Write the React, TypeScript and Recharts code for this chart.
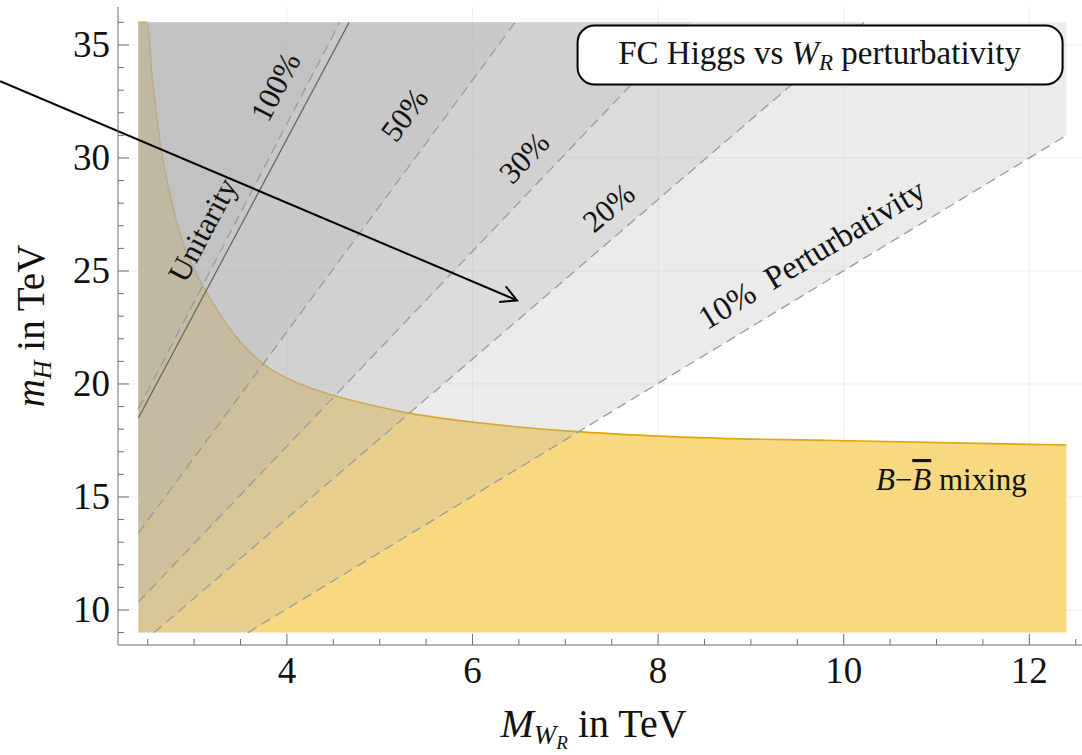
import React from 'react';
import {
  ComposedChart,
  Area,
  Line,
  XAxis,
  YAxis,
  CartesianGrid,
  ReferenceDot,
  ReferenceLine,
} from 'recharts';

const FONT = '"Liberation Serif", "Times New Roman", serif';
const FRAME = '#6e6e6e';

// plotted box of the scan
const X_LEFT = 2.4;
const X_RIGHT = 12.4;
const Y_BOTTOM = 9;
const Y_TOP = 36;

// axes
const X_DOMAIN = [2.18, 12.6];
const Y_DOMAIN = [8.45, 36.68];
const X_TICKS = [2.5, 3, 3.5, 4, 4.5, 5, 5.5, 6, 6.5, 7, 7.5, 8, 8.5, 9, 9.5, 10, 10.5, 11, 11.5, 12, 12.5];
const X_MAJOR = [4, 6, 8, 10, 12];
const Y_TICKS = [9, 10, 11, 12, 13, 14, 15, 16, 17, 18, 19, 20, 21, 22, 23, 24, 25, 26, 27, 28, 29, 30, 31, 32, 33, 34, 35, 36];
const Y_MAJOR = [10, 15, 20, 25, 30, 35];

// B - Bbar mixing bound (upper edge of the yellow region)
const MIX_X = [2.4, 2.49, 2.55, 2.64, 2.75, 2.9, 3.06, 3.2, 3.41, 3.74, 4.14, 4.5, 4.87, 5.3, 6.09, 7.17, 8.25, 9.9, 12.4];
const MIX_Y = [36, 36, 33.5, 30.5, 28.2, 26.0, 24.6, 23.6, 22.3, 20.9, 20.0, 19.5, 19.1, 18.72, 18.27, 17.88, 17.65, 17.5, 17.3];

// perturbativity contours: where each dashed line enters and leaves the box
const LINE_10 = [{ x: 3.58, y: 9 }, { x: 12.4, y: 31.0 }];
const LINE_20 = [{ x: 2.57, y: 9 }, { x: 10.22, y: 36 }];
const LINE_30 = [{ x: 2.4, y: 10.35 }, { x: 8.35, y: 36 }];
const LINE_50 = [{ x: 2.4, y: 13.4 }, { x: 6.46, y: 36 }];
const LINE_100 = [{ x: 2.4, y: 18.9 }, { x: 4.57, y: 36 }];
const UNITARITY = [{ x: 2.4, y: 18.5 }, { x: 4.67, y: 36 }];

const ARROW_FROM = { x: 0.91, y: 33.4 };
const ARROW_TO = { x: 6.48, y: 23.7 };

const LINE_LABELS = [
  { text: '100%', x: 3.88, y: 33.14, angle: -62.5, size: 31 },
  { text: '50%', x: 5.27, y: 31.9, angle: -53.6, size: 31 },
  { text: '30%', x: 6.56, y: 30.0, angle: -46.4, size: 31 },
  { text: '20%', x: 7.47, y: 27.79, angle: -40.7, size: 31 },
  { text: '10%\u00a0\u00a0Perturbativity', x: 9.66, y: 25.71, angle: -31.2, size: 33 },
  { text: 'Unitarity', x: 3.095, y: 26.81, angle: -61.9, size: 31 },
];
const MIX_LABEL = { x: 11.16, y: 15.75 };
const TITLE_POS = { x: 9.74, y: 34.58 };

const mixRows = MIX_X.map((x, i) => ({ x, y: MIX_Y[i] }));

// region above a contour, closed at the top of the box
function band(line: { x: number; y: number }[]) {
  const [a, b] = line;
  const rows: { x: number; lo: number; hi: number }[] = [];
  if (a.x > X_LEFT) rows.push({ x: X_LEFT, lo: Y_BOTTOM, hi: Y_TOP });
  rows.push({ x: a.x, lo: a.y, hi: Y_TOP });
  rows.push({ x: b.x, lo: b.y, hi: Y_TOP });
  return rows;
}

const BANDS = [LINE_10, LINE_20, LINE_30, LINE_50, LINE_100];

const BottomTick = ({ x, y, payload }: any) => {
  const major = X_MAJOR.includes(payload.value);
  return (
    <g>
      <line x1={x} y1={y} x2={x} y2={y - (major ? 11 : 6)} stroke={FRAME} strokeWidth={1} />
      {major && (
        <text x={x} y={y + 38} textAnchor="middle" fontFamily={FONT} fontSize={37} fill="#111">
          {payload.value}
        </text>
      )}
    </g>
  );
};

const TopTick = ({ x, y, payload }: any) => {
  const major = X_MAJOR.includes(payload.value);
  return <line x1={x} y1={y} x2={x} y2={y + (major ? 11 : 6)} stroke={FRAME} strokeWidth={1} />;
};

const LeftTick = ({ x, y, payload }: any) => {
  const major = Y_MAJOR.includes(payload.value);
  return (
    <g>
      <line x1={x} y1={y} x2={x + (major ? 11 : 6)} y2={y} stroke={FRAME} strokeWidth={1} />
      {major && (
        <text x={x - 8} y={y + 12} textAnchor="end" fontFamily={FONT} fontSize={37} fill="#111">
          {payload.value}
        </text>
      )}
    </g>
  );
};

const RightTick = ({ x, y, payload }: any) => {
  const major = Y_MAJOR.includes(payload.value);
  return <line x1={x} y1={y} x2={x - (major ? 11 : 6)} y2={y} stroke={FRAME} strokeWidth={1} />;
};

const XTitle = ({ viewBox }: any) => {
  const cx = viewBox.x + viewBox.width / 2 - 8;
  return (
    <text x={cx} y={viewBox.y + 92} textAnchor="middle" fontFamily={FONT} fontSize={40} fill="#111" style={{ whiteSpace: 'pre' }}>
      <tspan fontStyle="italic">M</tspan>
      <tspan fontStyle="italic" fontSize={27} dy={7}>W</tspan>
      <tspan fontStyle="italic" fontSize={19} dy={5}>R</tspan>
      <tspan dy={-12}>{' in TeV'}</tspan>
    </text>
  );
};

const YTitle = ({ viewBox }: any) => {
  const cy = viewBox.y + viewBox.height / 2;
  return (
    <text
      transform={`translate(44, ${cy}) rotate(-90)`}
      textAnchor="middle"
      fontFamily={FONT}
      fontSize={39}
      fill="#111"
      style={{ whiteSpace: 'pre' }}
    >
      <tspan fontStyle="italic">m</tspan>
      <tspan fontStyle="italic" fontSize={26} dy={7}>H</tspan>
      <tspan dy={-7}>{' in TeV'}</tspan>
    </text>
  );
};

const ArrowShape = ({ x1, y1, x2, y2 }: any) => {
  const ang = Math.atan2(y2 - y1, x2 - x1);
  const len = 18;
  const spread = 0.49;
  const w1x = x2 - len * Math.cos(ang - spread);
  const w1y = y2 - len * Math.sin(ang - spread);
  const w2x = x2 - len * Math.cos(ang + spread);
  const w2y = y2 - len * Math.sin(ang + spread);
  return (
    <g>
      <line x1={x1} y1={y1} x2={x2} y2={y2} stroke="#000" strokeWidth={2} />
      <polyline points={`${w1x},${w1y} ${x2},${y2} ${w2x},${w2y}`} fill="none" stroke="#000" strokeWidth={2} />
    </g>
  );
};

export default function App() {
  return (
    <div style={{ position: 'absolute', left: 0, top: 0, width: 1082, height: 755, overflow: 'hidden', background: '#fff' }}>
      <ComposedChart width={1090} height={755} margin={{ top: 7, right: 5, bottom: 0, left: 0 }}>
        <CartesianGrid stroke="#efefef" verticalValues={X_MAJOR} horizontalValues={Y_MAJOR} />
        <XAxis
          dataKey="x"
          type="number"
          domain={X_DOMAIN}
          allowDataOverflow
          ticks={X_TICKS}
          interval={0}
          height={110}
          tickSize={0}
          tickMargin={0}
          tickLine={false}
          axisLine={{ stroke: FRAME }}
          tick={(p: any) => <BottomTick {...p} />}
          label={{ content: (p: any) => <XTitle {...p} /> }}
        />
        <XAxis
          xAxisId="top"
          orientation="top"
          dataKey="x"
          type="number"
          domain={X_DOMAIN}
          allowDataOverflow
          ticks={X_TICKS}
          interval={0}
          height={0}
          tickSize={0}
          tickMargin={0}
          tickLine={false}
          axisLine={{ stroke: FRAME }}
          tick={(p: any) => <TopTick {...p} />}
        />
        <YAxis
          type="number"
          domain={Y_DOMAIN}
          allowDataOverflow
          ticks={Y_TICKS}
          interval={0}
          width={118}
          tickSize={0}
          tickMargin={0}
          tickLine={false}
          axisLine={{ stroke: FRAME }}
          tick={(p: any) => <LeftTick {...p} />}
          label={{ content: (p: any) => <YTitle {...p} /> }}
        />
        <YAxis
          yAxisId="right"
          orientation="right"
          type="number"
          domain={Y_DOMAIN}
          allowDataOverflow
          ticks={Y_TICKS}
          interval={0}
          width={0}
          tickSize={0}
          tickMargin={0}
          tickLine={false}
          axisLine={{ stroke: FRAME }}
          tick={(p: any) => <RightTick {...p} />}
        />

        <Area
          data={mixRows}
          dataKey="y"
          baseValue={Y_BOTTOM}
          type="monotone"
          fill="#f8d981"
          fillOpacity={1}
          stroke="#e2a60c"
          strokeWidth={1.6}
          isAnimationActive={false}
        />

        {BANDS.map((line, i) => (
          <Area
            key={`band-${i}`}
            data={band(line)}
            dataKey={(d: any) => [d.lo, d.hi]}
            type="linear"
            fill="#b0b0b0"
            fillOpacity={0.25}
            stroke="none"
            isAnimationActive={false}
          />
        ))}

        {BANDS.map((line, i) => (
          <Line
            key={`contour-${i}`}
            data={line}
            dataKey="y"
            type="linear"
            stroke="#9a9a9a"
            strokeWidth={1.3}
            strokeDasharray="10 6"
            dot={false}
            activeDot={false}
            isAnimationActive={false}
          />
        ))}
        <Line
          data={UNITARITY}
          dataKey="y"
          type="linear"
          stroke="#666"
          strokeWidth={1.2}
          dot={false}
          activeDot={false}
          isAnimationActive={false}
        />

        {LINE_LABELS.map((l) => (
          <ReferenceDot
            key={l.text}
            x={l.x}
            y={l.y}
            r={0}
            ifOverflow="visible"
            shape={(p: any) => (
              <text
                transform={`translate(${p.cx}, ${p.cy}) rotate(${l.angle})`}
                y={10}
                textAnchor="middle"
                fontFamily={FONT}
                fontSize={l.size}
                fill="#111"
              >
                {l.text}
              </text>
            )}
          />
        ))}

        <ReferenceDot
          x={MIX_LABEL.x}
          y={MIX_LABEL.y}
          r={0}
          ifOverflow="visible"
          shape={(p: any) => (
            <text x={p.cx} y={p.cy + 10} textAnchor="middle" fontFamily={FONT} fontSize={31} fill="#111" style={{ whiteSpace: 'pre' }}>
              <tspan fontStyle="italic">B</tspan>
              <tspan>{'\u2212'}</tspan>
              <tspan fontStyle="italic" textDecoration="overline">B</tspan>
              <tspan>{' mixing'}</tspan>
            </text>
          )}
        />

        <ReferenceDot
          x={TITLE_POS.x}
          y={TITLE_POS.y}
          r={0}
          ifOverflow="visible"
          shape={(p: any) => (
            <g>
              <rect x={p.cx - 242} y={p.cy - 29} width={485} height={59} rx={17} fill="#fff" stroke="#000" strokeWidth={2} />
              <text x={p.cx} y={p.cy + 10} textAnchor="middle" fontFamily={FONT} fontSize={33} fill="#111" style={{ whiteSpace: 'pre' }}>
                <tspan>{'FC Higgs vs '}</tspan>
                <tspan fontStyle="italic">W</tspan>
                <tspan fontStyle="italic" fontSize={23} dy={6}>R</tspan>
                <tspan dy={-6}>{' perturbativity'}</tspan>
              </text>
            </g>
          )}
        />

        <ReferenceLine segment={[ARROW_FROM, ARROW_TO]} ifOverflow="visible" shape={(p: any) => <ArrowShape {...p} />} />
      </ComposedChart>
    </div>
  );
}
